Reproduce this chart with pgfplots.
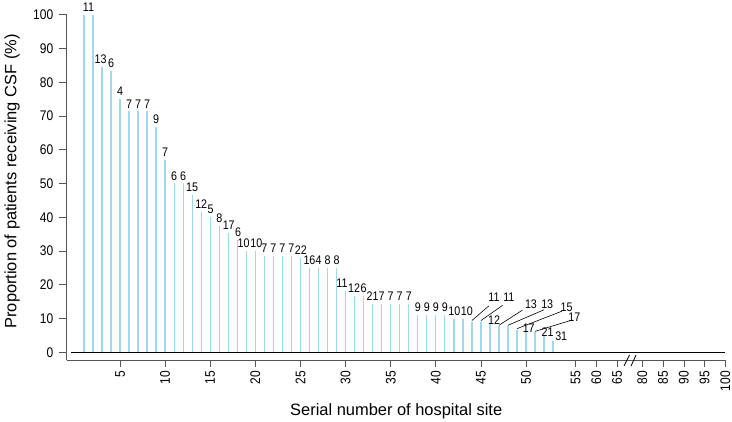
\documentclass[border=0pt]{standalone}
\usepackage{fontspec}
\setmainfont{Liberation Sans}
\newfontfamily\narrowfont[FakeStretch=0.86]{Liberation Sans}
\usepackage{pgfplots}
\pgfplotsset{compat=1.18}
\usepackage{pgfplotstable}

\definecolor{barblue}{RGB}{160,216,238}
\definecolor{spine}{RGB}{85,85,85}

\pgfplotstableread{
x y
1 100
2 100
3 84.6
4 83.3
5 75
6 71.4
7 71.4
8 71.4
9 66.7
10 57.1
11 50
12 50
13 46.7
14 41.7
15 40
16 37.5
17 35.3
18 33.3
19 30
20 30
21 28.6
22 28.6
23 28.6
24 28.6
25 28.0
26 25
27 25
28 25
29 25
30 18.2
31 16.7
32 16.7
33 14.3
34 14.3
35 14.3
36 14.3
37 14.3
38 11.1
39 11.1
40 11.1
41 11.1
42 10
43 10
44 9.1
45 9.1
46 8.3
47 7.7
48 7.7
49 6.7
50 5.9
51 5.9
52 4.8
53 3.2
}\bars

\pgfplotstableread{
x y lab
1.5 100 11
2.85 84.6 13
4 83.3 6
5 75 4
6 71.4 7
7 71.4 7
8 71.4 7
9 66.7 9
10 57.1 7
11 50 6
12 50 6
13 46.7 15
14 41.7 12
15.05 40 5
16 37.5 8
17.05 35.3 17
18.1 33.3 6
18.7 30 10
20.1 30 10
21 28.6 7
22 28.6 7
23 28.6 7
24 28.6 7
25.05 28.0 22
26 25 16
27 25 4
28 25 8
29 25 8
29.6 18.2 11
30.95 16.7 12
32.0 16.7 6
33.0 14.3 21
34 14.3 7
35 14.3 7
36 14.3 7
37 14.3 7
38 11.1 9
39 11.1 9
40 11.1 9
41 11.1 9
42.05 10 10
43.45 10 10
}\labs

\pgfplotstableread{
x y lab
46.45 14.9 11
48.1 14.9 11
46.45 8.3 12
50.55 13.0 13
52.35 13.0 13
54.5 12.1 15
55.35 9.2 17
50.3 5.7 17
52.4 4.7 21
53.9 3.4 31
}\labc

\begin{document}
\begin{tikzpicture}
\useasboundingbox (0,0) rectangle (732bp,422bp);
\begin{axis}[
  at={(66.7bp,62bp)}, anchor=south west,
  scale only axis, width=659bp, height=345.3bp,
  xmin=-0.91, xmax=72.13, ymin=-2.28, ymax=100,
  axis x line=bottom, axis y line=left,
  axis line style={spine, line width=0.8bp, -},
  xtick={5,10,15,20,25,30,35,40,45,50,55.5,57.8,60.1,62.9,65.2,67.5,69.8,72.1},
  xticklabels={5,10,15,20,25,30,35,40,45,50,55,60,65,80,85,90,95,100},
  ytick={0,10,...,100},
  tick align=outside, major tick length=7.5bp,
  tick style={spine, line width=0.8bp},
  minor tick num=0,
  xticklabel style={rotate=90, anchor=east, font=\narrowfont\fontsize{14}{16}\selectfont},
  yticklabel style={anchor=east, xshift=-2.5bp, font=\narrowfont\fontsize{14}{16}\selectfont},
  /pgf/number format/assume math mode=true,
  clip=false,
  xlabel={Serial number of hospital site},
  ylabel={Proportion of patients receiving CSF (\%)},
  xlabel style={at={(axis description cs:0.5,-0.162)}, anchor=base, font=\fontsize{16.5}{19}\selectfont},
  ylabel style={at={(axis description cs:-0.083,0.517)}, anchor=center, font=\fontsize{16.5}{19}\selectfont},
]
\addplot[ycomb, barblue, line width=1.3bp, mark=none] table[x=x,y=y]{\bars};
\addplot[black, line width=0.8bp, mark=none] coordinates {(-0.43,0) (72.06,0)};
\addplot[draw=none, mark=none, nodes near coords, point meta=explicit symbolic,
  nodes near coords style={anchor=south, inner sep=0pt, yshift=3bp, text=black, font=\narrowfont\fontsize{12.5}{14}\selectfont}]
  table[x=x,y=y,meta=lab]{\labs};
\addplot[draw=none, mark=none, nodes near coords, point meta=explicit symbolic,
  nodes near coords style={anchor=south, inner sep=0pt, text=black, font=\narrowfont\fontsize{12.5}{14}\selectfont}]
  table[x=x,y=y,meta=lab]{\labc};
\addplot[black, line width=0.6bp, mark=none] coordinates {(44,9.4) (45.9,13.8)};
\addplot[black, line width=0.6bp, mark=none] coordinates {(45,9.4) (47.4,13.9)};
\addplot[black, line width=0.6bp, mark=none] coordinates {(47,8.0) (49.6,12.5)};
\addplot[black, line width=0.6bp, mark=none] coordinates {(48,8.0) (52.0,12.6)};
\addplot[black, line width=0.6bp, mark=none] coordinates {(49,7.0) (54.0,12.2)};
\addplot[black, line width=0.6bp, mark=none] coordinates {(51,6.2) (54.9,9.4)};
\addplot[black, line width=0.8bp, mark=none] coordinates {(60.86,-4.06) (61.47,-0.8)};
\addplot[black, line width=0.8bp, mark=none] coordinates {(61.64,-4.06) (62.19,-0.8)};
\end{axis}
\end{tikzpicture}
\end{document}
